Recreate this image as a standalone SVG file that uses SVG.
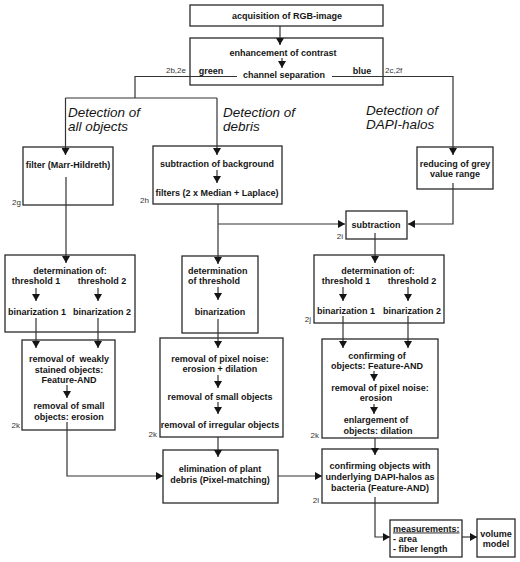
<svg xmlns="http://www.w3.org/2000/svg" width="520" height="562" viewBox="0 0 520 562">
<style>
.box{fill:#fff;stroke:#2a2a2a;stroke-width:1.3}
.t{font-family:"Liberation Sans",Arial,sans-serif;font-weight:bold;font-size:9px;fill:#151515;text-anchor:middle}
.s{text-anchor:start}
.r{font-family:"Liberation Sans",Arial,sans-serif;font-size:8px;fill:#333;text-anchor:end}
.rs{text-anchor:start}
.h{font-family:"Liberation Sans",Arial,sans-serif;font-style:italic;font-size:13.5px;fill:#151515}
.c{fill:none;stroke:#333;stroke-width:1.2}
.a{marker-end:url(#ah)}
</style>
<defs>
<marker id="ah" markerUnits="userSpaceOnUse" markerWidth="7" markerHeight="8" refX="7" refY="4" orient="auto">
<path d="M0,0 L7,4 L0,8 z" fill="#151515"/>
</marker>
</defs>
<rect width="520" height="562" fill="#fff"/>

<g id="n-acq">
<rect class="box" x="190" y="5" width="193" height="21"/>
<text class="t" x="287" y="18.5">acquisition of RGB-image</text>
</g>

<g id="n-enh">
<rect class="box" x="190" y="38" width="193" height="47"/>
<text class="t" x="283" y="55.5">enhancement of contrast</text>
<text class="t" x="284" y="77.5">channel separation</text>
<text class="t" x="211" y="73.5">green</text>
<text class="t" x="362" y="73.5">blue</text>
</g>
<text class="r" x="186" y="72.5">2b,2e</text>
<text class="r rs" x="385" y="72.5">2c,2f</text>

<g id="h-all"><text class="h" x="68" y="116.5">Detection of</text><text class="h" x="68" y="130.5">all objects</text></g>
<g id="h-debris"><text class="h" x="223" y="116.5">Detection of</text><text class="h" x="223" y="130.5">debris</text></g>
<g id="h-dapi"><text class="h" x="366" y="115">Detection of</text><text class="h" x="366" y="129">DAPI-halos</text></g>

<g id="n-filter">
<rect class="box" x="23" y="147" width="90" height="58"/>
<text class="t" x="68" y="168">filter (Marr-Hildreth)</text>
<text class="r" x="21" y="205">2g</text>
</g>

<g id="n-subbg">
<rect class="box" x="153" y="146" width="129" height="58"/>
<text class="t" x="217" y="166.5">subtraction of background</text>
<text class="t" x="217" y="195.5">filters (2 x Median + Laplace)</text>
<text class="r" x="149" y="203">2h</text>
</g>

<g id="n-reduce">
<rect class="box" x="417" y="147" width="76" height="42"/>
<text class="t" x="455" y="166.5">reducing of grey</text>
<text class="t" x="455" y="177">value range</text>
</g>

<g id="n-sub">
<rect class="box" x="346" y="211" width="61" height="28"/>
<text class="t" x="376" y="227.5">subtraction</text>
<text class="r" x="343" y="239">2i</text>
</g>

<g id="n-det1">
<rect class="box" x="5" y="255" width="130" height="77"/>
<text class="t" x="70" y="273.5">determination of:</text>
<text class="t" x="36" y="284">threshold 1</text>
<text class="t" x="102" y="284">threshold 2</text>
<text class="t" x="37" y="314.5">binarization 1</text>
<text class="t" x="102" y="314.5">binarization 2</text>
</g>

<g id="n-det2">
<rect class="box" x="182" y="256" width="76" height="77"/>
<text class="t s" x="188" y="273.5">determination</text>
<text class="t s" x="188" y="283.5">of threshold</text>
<text class="t" x="220" y="314.5">binarization</text>
</g>

<g id="n-det3">
<rect class="box" x="314" y="255" width="130" height="68"/>
<text class="t" x="378" y="273.5">determination of:</text>
<text class="t" x="346" y="283.5">threshold 1</text>
<text class="t" x="412" y="283.5">threshold 2</text>
<text class="t" x="346" y="313.5">binarization 1</text>
<text class="t" x="412" y="313.5">binarization 2</text>
<text class="r" x="311" y="322">2j</text>
</g>

<g id="n-rem1">
<rect class="box" x="22" y="340" width="93" height="90"/>
<text class="t" x="69" y="361.5" xml:space="preserve">removal of  weakly</text>
<text class="t" x="69" y="372.5">stained objects:</text>
<text class="t" x="69" y="382.5">Feature-AND</text>
<text class="t" x="69" y="408.5">removal of small</text>
<text class="t" x="69" y="419.5">objects: erosion</text>
<text class="r" x="20" y="428">2k</text>
</g>

<g id="n-rem2">
<rect class="box" x="160" y="338" width="123" height="99"/>
<text class="t" x="220" y="361.5">removal of pixel noise:</text>
<text class="t" x="220" y="371.5">erosion + dilation</text>
<text class="t" x="220" y="399.5">removal of small objects</text>
<text class="t" x="220" y="427.5">removal of irregular objects</text>
<text class="r" x="157" y="437">2k</text>
</g>

<g id="n-conf">
<rect class="box" x="322" y="339" width="116" height="99"/>
<text class="t" x="377" y="358.5">confirming of</text>
<text class="t" x="377" y="368.5">objects: Feature-AND</text>
<text class="t" x="380" y="390.5">removal of pixel noise:</text>
<text class="t" x="376" y="400.5">erosion</text>
<text class="t" x="376" y="422.5">enlargement of</text>
<text class="t" x="378" y="433.5">objects: dilation</text>
<text class="r" x="319" y="438">2k</text>
</g>

<g id="n-elim">
<rect class="box" x="163" y="450" width="115" height="53"/>
<text class="t" x="220" y="471.5">elimination of plant</text>
<text class="t" x="220" y="482.5">debris (Pixel-matching)</text>
</g>

<g id="n-final">
<rect class="box" x="322" y="449" width="116" height="54"/>
<text class="t" x="380" y="468.5">confirming objects with</text>
<text class="t" x="380" y="479.5">underlying DAPI-halos as</text>
<text class="t" x="380" y="490.5">bacteria (Feature-AND)</text>
<text class="r" x="319" y="503">2l</text>
</g>

<g id="n-meas">
<rect class="box" x="390" y="520" width="72" height="37"/>
<text class="t s" x="393" y="531.5" text-decoration="underline">measurements:</text>
<text class="t s" x="393" y="541.5">- area</text>
<text class="t s" x="393" y="551.5">- fiber length</text>
</g>

<g id="n-vol">
<rect class="box" x="477" y="519" width="38" height="38"/>
<text class="t" x="496" y="536.5">volume</text>
<text class="t" x="496" y="546.5">model</text>
</g>

<g id="connectors">
<path class="c a" d="M280,26 V45"/>
<path class="c a" d="M282,58 V68"/>
<path class="c" d="M237,76.5 H135 V98 H65.5 M135,98 H217"/>
<path class="c a" d="M65.5,98 V155"/>
<path class="c a" d="M217,98 V155"/>
<path class="c a" d="M332,76.5 H453 V155"/>
<path class="c a" d="M217,170 V183"/>
<path class="c a" d="M66,177 V263"/>
<path class="c a" d="M218,204 V264"/>
<path class="c a" d="M218,224 H345"/>
<path class="c a" d="M453,183 V224 H408"/>
<path class="c a" d="M375,233 V263"/>
<path class="c a" d="M36,288 V301"/>
<path class="c a" d="M98,288 V301"/>
<path class="c a" d="M218,287 V300"/>
<path class="c a" d="M343,287 V301"/>
<path class="c a" d="M408,287 V301"/>
<path class="c a" d="M36,318 V348"/>
<path class="c a" d="M98,318 V348"/>
<path class="c a" d="M218,319 V348"/>
<path class="c a" d="M343,316 V348"/>
<path class="c a" d="M408,316 V348"/>
<path class="c a" d="M67,385 V398"/>
<path class="c a" d="M218,375 V388"/>
<path class="c a" d="M218,402 V414"/>
<path class="c a" d="M374,371 V381"/>
<path class="c a" d="M374,404 V414"/>
<path class="c a" d="M67,422 V476 H163"/>
<path class="c a" d="M218,437 V457"/>
<path class="c a" d="M375,438 V455"/>
<path class="c a" d="M278,476 H322"/>
<path class="c a" d="M375,497 V537 H390"/>
<path class="c a" d="M462,537 H477"/>
</g>
</svg>
